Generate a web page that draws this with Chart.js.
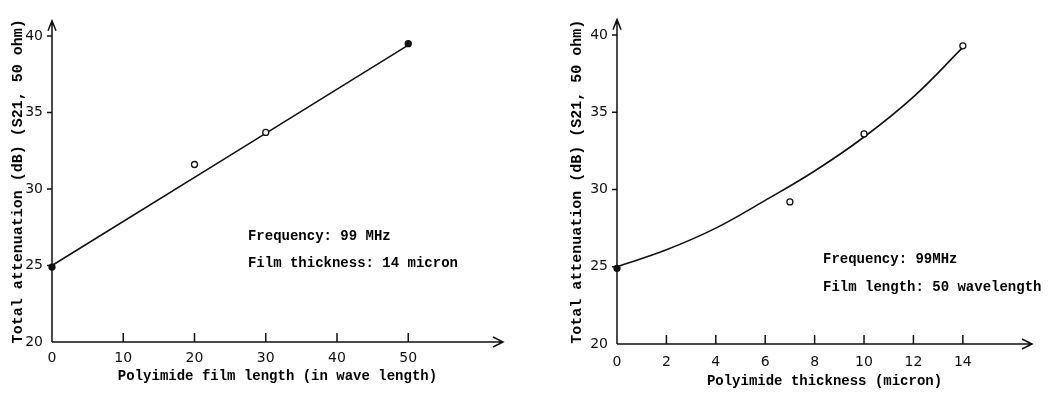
<!DOCTYPE html>
<html>
<head>
<meta charset="utf-8">
<script src="https://cdn.jsdelivr.net/npm/chart.js@4.4.0/dist/chart.umd.min.js"></script>
<style>
  body { margin: 0; background: #fff; width: 1055px; height: 394px; overflow: hidden; position: relative; }
  .box { position: absolute; top: 0; height: 394px; }
</style>
</head>
<body>
<div class="box" style="left:0;width:540px"><canvas id="lengthChart" width="540" height="394"></canvas></div>
<div class="box" style="left:540px;width:515px"><canvas id="thickChart" width="515" height="394"></canvas></div>
<script>
// Left: attenuation vs film length
const lengthX = [0, 20, 30, 50];
const lengthY = [24.9, 31.6, 33.7, 39.5];
const lengthFilled = [true, false, false, true];
const lengthFitX = [0, 50];
const lengthFitY = [25.0, 39.4];
const lengthTicks = [0, 10, 20, 30, 40, 50];
const lengthNotes = ['Frequency: 99 MHz', 'Film thickness: 14 micron'];

// Right: attenuation vs thickness
const thickX = [0, 7, 10, 14];
const thickY = [24.9, 29.2, 33.6, 39.3];
const thickFilled = [true, false, false, false];
const thickFitX = [0, 2, 4, 6, 8, 10, 12, 14];
const thickFitY = [25.0, 26.1, 27.5, 29.3, 31.2, 33.4, 36.0, 39.2];
const thickTicks = [0, 2, 4, 6, 8, 10, 12, 14];
const thickNotes = ['Frequency: 99MHz', 'Film length: 50 wavelength'];

const yTicks = [20, 25, 30, 35, 40];
const yTitle = 'Total attenuation (dB) (S21, 50 ohm)';

const INK = '#111';
const monoFont = (size) => ({ family: '"Liberation Mono", monospace', size: size, weight: 'bold' });
const tickFont = { family: '"DejaVu Sans", sans-serif', size: 14 };

// axis lines, arrows, inward x ticks, short y ticks, and the notes
const axesPlugin = {
  id: 'axes',
  afterDraw(chart, args, opts) {
    const { ctx, chartArea: a, scales: { x, y } } = chart;
    ctx.save();
    ctx.strokeStyle = INK;
    ctx.lineWidth = 1.5;
    ctx.beginPath();
    ctx.moveTo(a.left, a.bottom); ctx.lineTo(a.right, a.bottom);
    ctx.moveTo(a.left, a.bottom); ctx.lineTo(a.left, a.top);
    ctx.moveTo(a.right - 10, a.bottom - 5); ctx.lineTo(a.right, a.bottom); ctx.lineTo(a.right - 10, a.bottom + 5);
    ctx.moveTo(a.left - 4, a.top + 10); ctx.lineTo(a.left, a.top); ctx.lineTo(a.left + 4, a.top + 10);
    x.ticks.forEach(t => {
      if (t.value === 0) return;
      const px = x.getPixelForValue(t.value);
      ctx.moveTo(px, a.bottom); ctx.lineTo(px, a.bottom - 9);
    });
    y.ticks.forEach(t => {
      if (t.value === 20) return;
      const py = y.getPixelForValue(t.value);
      ctx.moveTo(a.left - 5, py); ctx.lineTo(a.left, py);
    });
    ctx.stroke();

    ctx.fillStyle = '#000';
    ctx.font = 'bold 14px "Liberation Mono", monospace';
    ctx.textBaseline = 'middle';
    opts.notes.forEach((s, i) => {
      ctx.fillText(s, x.getPixelForValue(opts.noteX), y.getPixelForValue(opts.noteY) + i * opts.gap);
    });
    ctx.restore();
  }
};

function makeChart(id, cfg) {
  const pts = cfg.px.map((v, i) => ({ x: v, y: cfg.py[i] }));
  const fit = cfg.fitX.map((v, i) => ({ x: v, y: cfg.fitY[i] }));
  return new Chart(document.getElementById(id), {
    type: 'scatter',
    data: {
      datasets: [{
        data: pts,
        pointRadius: 3,
        pointBorderWidth: 1.3,
        pointBorderColor: INK,
        pointBackgroundColor: cfg.filled.map(f => f ? INK : '#fff'),
        clip: false,
      }, {
        type: 'line',
        data: fit,
        borderColor: INK,
        borderWidth: 1.6,
        pointRadius: 0,
        fill: false,
        tension: 0.4,
        clip: false,
      }],
    },
    options: {
      responsive: false,
      animation: false,
      events: [],
      layout: { padding: { top: cfg.padTop, right: cfg.padRight, left: 0, bottom: 0 } },
      plugins: {
        legend: { display: false },
        tooltip: { enabled: false },
        axes: { notes: cfg.notes, noteX: cfg.noteX, noteY: cfg.noteY, gap: cfg.gap },
      },
      scales: {
        x: {
          type: 'linear',
          min: 0,
          max: cfg.xMax,
          afterBuildTicks: s => { s.ticks = cfg.xTicks.map(v => ({ value: v })); },
          afterFit: s => { s.height = cfg.xHeight; },
          grid: { display: false, drawTicks: false },
          border: { display: false },
          ticks: { font: tickFont, color: INK, padding: cfg.xTickPad, maxRotation: 0 },
          title: { display: true, text: cfg.xTitle, font: monoFont(14), color: '#000', padding: { top: 0, bottom: cfg.xTitlePad } },
        },
        y: {
          type: 'linear',
          min: 20,
          max: 41,
          afterBuildTicks: s => { s.ticks = yTicks.map(v => ({ value: v })); },
          afterFit: s => { s.width = cfg.yWidth; },
          grid: { display: false, drawTicks: false },
          border: { display: false },
          ticks: { font: tickFont, color: INK, padding: 9 },
          title: { display: true, text: yTitle, font: monoFont(15), color: '#000', padding: { top: cfg.yTitlePad, bottom: 0 } },
        },
      },
    },
    plugins: [axesPlugin],
  });
}

makeChart('lengthChart', {
  px: lengthX, py: lengthY, filled: lengthFilled,
  fitX: lengthFitX, fitY: lengthFitY,
  xTicks: lengthTicks, xMax: 63.3,
  xTitle: 'Polyimide film length (in wave length)',
  notes: lengthNotes, noteX: 27.5, noteY: 26.9, gap: 27,
  padTop: 20.7, padRight: 37, xHeight: 52, yWidth: 52,
  xTickPad: 8, xTitlePad: 9, yTitlePad: 9,
});

makeChart('thickChart', {
  px: thickX, py: thickY, filled: thickFilled,
  fitX: thickFitX, fitY: thickFitY,
  xTicks: thickTicks, xMax: 16.8,
  xTitle: 'Polyimide thickness (micron)',
  notes: thickNotes, noteX: 8.34, noteY: 25.44, gap: 28,
  padTop: 19.6, padRight: 23, xHeight: 50, yWidth: 77,
  xTickPad: 10, xTitlePad: 4, yTitlePad: 28,
});
</script>
</body>
</html>
